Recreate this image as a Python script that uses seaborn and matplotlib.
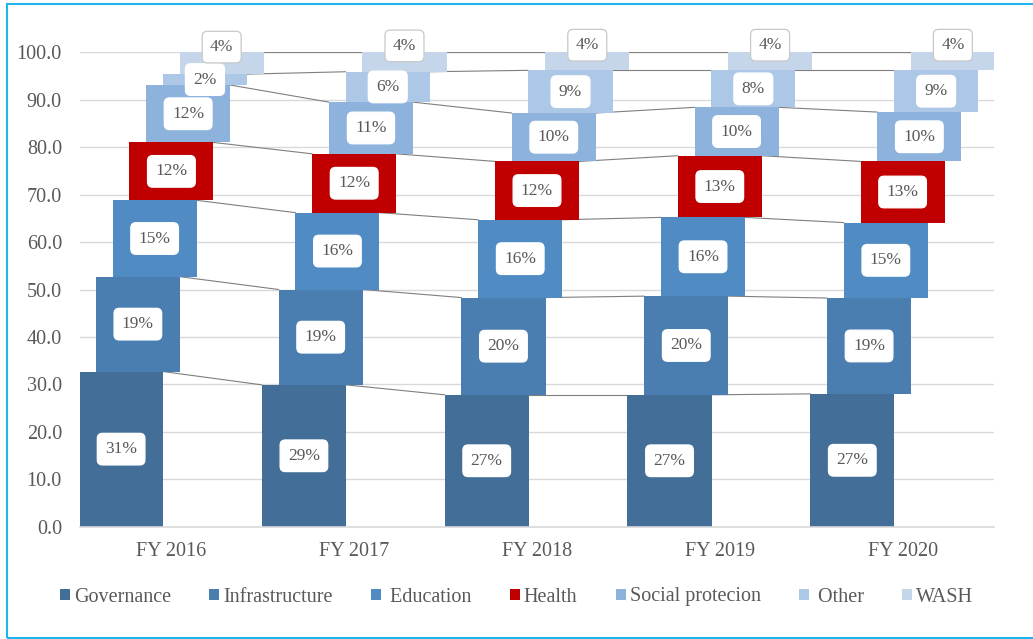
import numpy as np
import pandas as pd
import seaborn as sns
import matplotlib.pyplot as plt
from matplotlib.patches import Patch, Rectangle

# --- data ---
years = ["FY 2016", "FY 2017", "FY 2018", "FY 2019", "FY 2020"]
sectors = ["Governance", "Infrastructure", "Education", "Health",
           "Social protecion", "Other", "WASH"]
legend_names = ["Governance", "Infrastructure", " Education", "Health",
                "Social protecion", " Other", "WASH"]

# segment heights (bar lengths)
governance = [32.7, 29.9, 27.8, 27.8, 28.0]
infrastructure = [20.0, 20.1, 20.5, 20.8, 20.2]
education = [16.1, 16.2, 16.4, 16.6, 15.9]
health = [12.2, 12.4, 12.3, 13.0, 12.9]
social = [12.1, 10.9, 10.2, 10.2, 10.4]
other = [2.3, 6.4, 9.0, 7.8, 8.8]
wash = [4.6, 4.1, 3.8, 3.8, 3.8]

# data labels as printed on the chart
governance_lbl = [31, 29, 27, 27, 27]
infrastructure_lbl = [19, 19, 20, 20, 19]
education_lbl = [15, 16, 16, 16, 15]
health_lbl = [12, 12, 12, 13, 13]
social_lbl = [12, 11, 10, 10, 10]
other_lbl = [2, 6, 9, 8, 9]
wash_lbl = [4, 4, 4, 4, 4]

colors = ["#426E98", "#4A7EB0", "#508CC3", "#C00000",
          "#8DB3DC", "#ADC7E6", "#C5D6EB"]

values = [governance, infrastructure, education, health, social, other, wash]
labels = [governance_lbl, infrastructure_lbl, education_lbl, health_lbl,
          social_lbl, other_lbl, wash_lbl]

# --- long table with floating bases ---
rows = []
base = np.zeros(len(years))
for s, vals, lbls in zip(sectors, values, labels):
    for i, (v, l) in enumerate(zip(vals, lbls)):
        rows.append({"year": i, "sector": s, "value": v, "base": base[i], "label": l})
    base = base + np.array(vals)
df = pd.DataFrame(rows)

# --- style ---
sns.set_style("white")
plt.rcParams["font.family"] = ["Liberation Serif", "DejaVu Serif"]
text_col = "#595959"

fig = plt.figure(figsize=(10.33, 6.39), dpi=100)
ax = fig.add_axes([80 / 1033, 1 - 526.7 / 639, 914 / 1033, 474.4 / 639])

bar_w = 0.46
step = 0.0917

for k, s in enumerate(sectors):
    sub = df[df["sector"] == s]
    off = (k - 3) * step
    xs = sub["year"].values + off
    sns.barplot(x=xs, y=sub["value"].values, bottom=sub["base"].values,
                native_scale=True, width=bar_w, color=colors[k], saturation=1,
                errorbar=None, linewidth=0, ax=ax, zorder=2)
    # series lines between categories
    tops = (sub["base"] + sub["value"]).values
    for i in range(len(xs) - 1):
        ax.plot([xs[i] + bar_w / 2, xs[i + 1] - bar_w / 2], [tops[i], tops[i + 1]],
                color="#7F7F7F", lw=0.8, zorder=1.5)
    # data labels
    for x, b, v, l in zip(xs, sub["base"], sub["value"], sub["label"]):
        y = b + v / 2
        edge = "white"
        if s == "WASH":
            y = b + v / 2 + 3.4
            edge = "#C8C8C8"
        ax.text(x, y, f"{l}%", ha="center", va="center", fontsize=12.5,
                color=text_col, zorder=5, clip_on=False,
                bbox=dict(boxstyle="round,pad=0.45,rounding_size=0.3",
                          fc="white", ec=edge, lw=0.9))

ax.set_xlim(-0.5, 4.5)
ax.set_ylim(0, 100)
ax.set_xticks(range(len(years)))
ax.set_xticklabels(years)
ax.set_yticks(np.arange(0, 101, 10))
ax.set_yticklabels([f"{t:.1f}" for t in np.arange(0, 101, 10)])
ax.set_xlabel("")
ax.set_ylabel("")
ax.tick_params(axis="both", length=0, labelsize=14.5, colors=text_col)
ax.tick_params(axis="y", pad=13)
ax.tick_params(axis="x", pad=11)
ax.yaxis.grid(True, color="#D9D9D9", lw=1, zorder=0)
ax.set_axisbelow(True)
for sp in ["top", "right", "left"]:
    ax.spines[sp].set_visible(False)
ax.spines["bottom"].set_color("#D9D9D9")
ax.spines["bottom"].set_linewidth(1.2)

# legend
handles = [Patch(facecolor=c, edgecolor="none") for c in colors]
fig.legend(handles, legend_names, loc="center", bbox_to_anchor=(0.5, 1 - 597 / 639),
           ncol=7, frameon=False, fontsize=14.5, labelcolor=text_col,
           handlelength=0.5, handleheight=0.5, handletextpad=0.2,
           columnspacing=1.9)

# outer frame
fig.patches.append(Rectangle((7 / 1033, 1 / 639), 1.1, 1 - 5 / 639,
                             transform=fig.transFigure, fill=False,
                             ec="#1EB4EC", lw=1.5, clip_on=False))

fig.savefig("out.png", dpi=100)
